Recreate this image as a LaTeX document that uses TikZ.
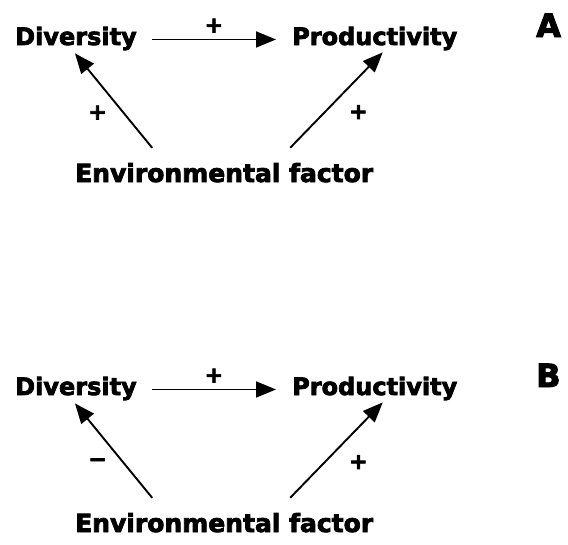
\documentclass[tikz,border=0pt]{standalone}
\usepackage{fontspec}
\setmainfont{DejaVu Sans}[BoldFeatures={FakeBold=3}]
\usetikzlibrary{arrows.meta}
\tikzset{
  lbl/.style={font=\fontsize{24}{28}\selectfont\bfseries, inner sep=0pt, anchor=base west},
  envlbl/.style={font=\fontsize{25}{29}\selectfont\bfseries, inner sep=0pt, anchor=base west},
  panel/.style={font=\fontsize{32}{36}\selectfont\bfseries, inner sep=0pt, anchor=base west},
  sgn/.style={font=\fontsize{22}{26}\selectfont\bfseries, inner sep=0pt},
  arr/.style={line width=1.9pt, -{Triangle[length=20pt,width=16pt]}},
}
\begin{document}
\begin{tikzpicture}[x=1pt,y=-1pt]
\useasboundingbox (0,0) rectangle (568,544);
\foreach \oy/\pl/\ls in {0/A/+,350/B/−}{
  \begin{scope}[yshift=-\oy pt]
    \node[lbl] (div) at (15,45) {Diversity};
    \node[lbl] (prod) at (292,45) {Productivity};
    \node[envlbl] (env) at (75,182) {Environmental factor};
    \node[panel] (pan) at (536,37) {\pl};
    \draw[arr] ([xshift=15pt,yshift=-1pt]div.east) -- ([xshift=-16pt,yshift=-1pt]prod.west)
      node[sgn, midway, above=6pt] (p1) {+};
    \draw[arr] ([xshift=-72pt,yshift=15pt]env.north) -- ([xshift=-1pt,yshift=-3pt]div.south)
      coordinate[pos=0.5] (mL);
    \draw[arr] ([xshift=66pt,yshift=15pt]env.north) -- ([xshift=8pt,yshift=-2pt]prod.south)
      coordinate[pos=0.5] (mR);
    \node[sgn] (p2) at ([xshift=-16pt,yshift=-12pt]mL) {\ls};
    \node[sgn] (p3) at ([xshift=22pt,yshift=-12pt]mR) {+};
  \end{scope}
}
\end{tikzpicture}
\end{document}
